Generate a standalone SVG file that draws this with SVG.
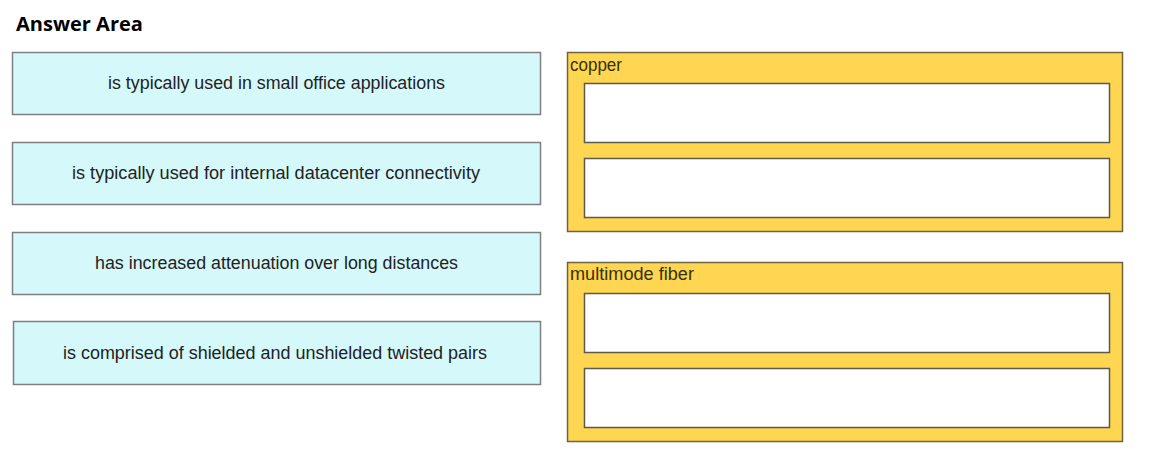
<svg xmlns="http://www.w3.org/2000/svg" width="1150" height="455" viewBox="0 0 1150 455">
<style>
.opt rect{fill:#d5f8fb;stroke:#7f7f7f;stroke-width:1.5}
.opt text{font-family:"Liberation Sans",Arial,sans-serif;font-size:17.5px;fill:#222;text-anchor:middle}
.zone>rect.bg{fill:#fed651;stroke:#6e6440;stroke-width:1.5}
.zone text{font-family:"Liberation Sans",Arial,sans-serif;font-size:17.5px;fill:#3a3000}
.slot{fill:#ffffff;stroke:#5c5a4a;stroke-width:1.5}
.title{font-family:"Open Sans","Liberation Sans",sans-serif;font-weight:bold;font-size:20px;fill:#000}
</style>
<rect width="1150" height="455" fill="#ffffff"/>
<text class="title" x="16" y="31">Answer Area</text>
<g id="opt1" class="opt"><rect x="12.5" y="52.5" width="528" height="62"/><text x="276.5" y="89" textLength="337" lengthAdjust="spacingAndGlyphs">is typically used in small office applications</text></g>
<g id="opt2" class="opt"><rect x="12.5" y="142.5" width="528" height="62"/><text x="276" y="179" textLength="408" lengthAdjust="spacingAndGlyphs">is typically used for internal datacenter connectivity</text></g>
<g id="opt3" class="opt"><rect x="12.5" y="232.5" width="528" height="62"/><text x="276.5" y="269" textLength="363" lengthAdjust="spacingAndGlyphs">has increased attenuation over long distances</text></g>
<g id="opt4" class="opt"><rect x="13.5" y="321.5" width="527" height="63"/><text x="275" y="359" textLength="424" lengthAdjust="spacingAndGlyphs">is comprised of shielded and unshielded twisted pairs</text></g>
<g id="copper" class="zone">
<rect class="bg" x="567.5" y="52.5" width="555" height="179"/>
<text x="570" y="71" textLength="52" lengthAdjust="spacingAndGlyphs">copper</text>
<rect class="slot" x="584.5" y="83.5" width="525" height="59"/>
<rect class="slot" x="584.5" y="158.5" width="525" height="59"/>
</g>
<g id="multimode" class="zone">
<rect class="bg" x="567.5" y="262.5" width="555" height="179"/>
<text x="570" y="280" textLength="124" lengthAdjust="spacingAndGlyphs">multimode fiber</text>
<rect class="slot" x="584.5" y="293.5" width="525" height="59"/>
<rect class="slot" x="584.5" y="368.5" width="525" height="59"/>
</g>
<g id="connectors"></g>
</svg>
